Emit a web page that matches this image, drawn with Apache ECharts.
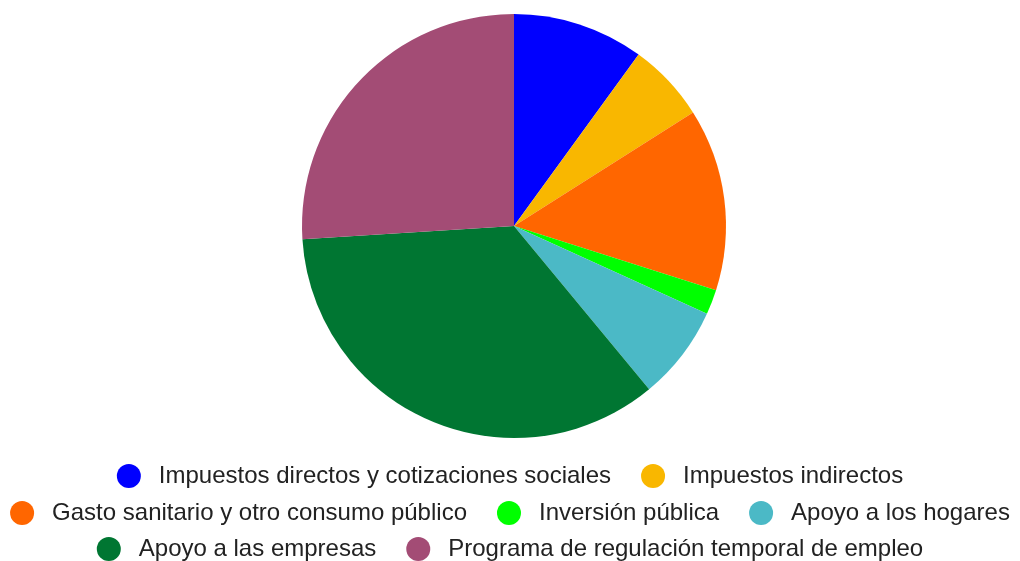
<!DOCTYPE html>
<html>
<head>
<meta charset="utf-8">
<script src="https://cdn.jsdelivr.net/npm/echarts@6/dist/echarts.min.js"></script>
<style>html,body{margin:0;padding:0;background:#fff}#c{width:1020px;height:561px}</style>
</head>
<body>
<div id="c"></div>
<script>
const categories = [
  "Impuestos directos y cotizaciones sociales",
  "Impuestos indirectos",
  "Gasto sanitario y otro consumo público",
  "Inversión pública",
  "Apoyo a los hogares",
  "Apoyo a las empresas",
  "Programa de regulación temporal de empleo"
];
const values = [10.0, 6.0, 13.9, 1.9, 7.2, 35.0, 26.0];
const colors = ["#0000ff", "#f9b700", "#ff6600", "#00ff00", "#4bb9c6", "#007632", "#a34c75"];
const legendRows = [[0, 1], [2, 3, 4], [5, 6]];
const legendTops = [459, 496, 532];

const chart = echarts.init(document.getElementById('c'), null, {renderer: 'canvas'});
const legendBase = {
  orient: 'horizontal',
  left: 'center',
  icon: 'circle',
  itemWidth: 24,
  itemHeight: 24,
  itemGap: 30,
  padding: 5,
  selectedMode: false,
  textStyle: {fontFamily: "'Liberation Sans'", fontSize: 24, lineHeight: 24, color: '#222', padding: [0, 0, 0, 13]}
};
chart.setOption({
  animation: false,
  color: colors,
  legend: legendRows.map((r, i) => Object.assign({}, legendBase, {
    top: legendTops[i],
    data: r.map(k => categories[k])
  })),
  series: [{
    type: 'pie',
    center: [514, 226],
    radius: 212,
    startAngle: 90,
    clockwise: true,
    label: {show: false},
    labelLine: {show: false},
    itemStyle: {borderWidth: 0},
    emphasis: {disabled: true},
    data: categories.map((n, i) => ({name: n, value: values[i]}))
  }]
});
</script>
</body>
</html>
